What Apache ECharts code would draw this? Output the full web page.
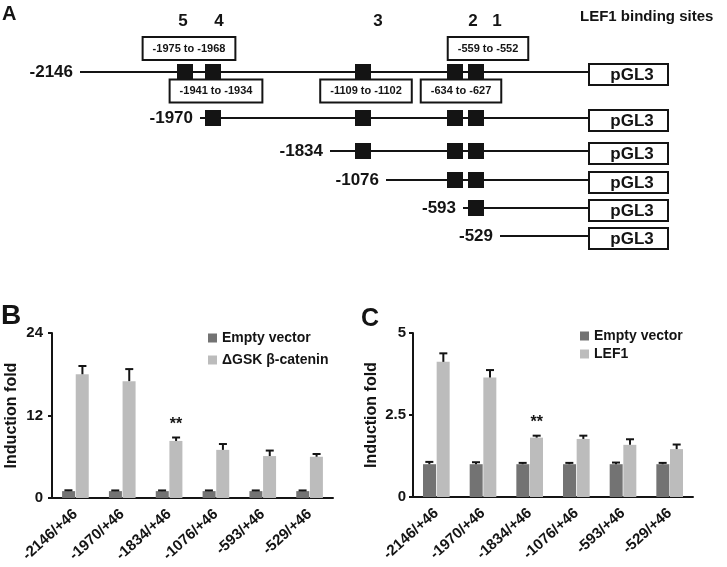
<!DOCTYPE html>
<html>
<head>
<meta charset="utf-8">
<script src="https://cdn.jsdelivr.net/npm/echarts@6/dist/echarts.min.js"></script>
<style>
  html, body { margin: 0; background: #fff; }
  #main { width: 727px; height: 567px; }
</style>
</head>
<body>
<div id="main"></div>
<script>
// panel A - promoter constructs, positions are along the (not to scale) diagram
const constructNames = ['-2146', '-1970', '-1834', '-1076', '-593', '-529'];
const constructStart = [80, 200, 330, 386, 463, 500];
const constructRow = [72, 118, 151, 180, 208, 236];
const siteNames = ['5', '4', '3', '2', '1'];
const sitePos = [185, 213, 363, 455, 476];
const siteLabelPos = [183, 219, 378, 473, 497];
const siteRanges = ['-1975 to -1968', '-1941 to -1934', '-1109 to -1102', '-634 to -627', '-559 to -552'];
const rangeSide = ['top', 'bottom', 'bottom', 'bottom', 'top'];
const rangePos = [189, 216, 366, 461, 488];
const vectorName = 'pGL3';
const vectorStart = 589;

// panels B and C - luciferase induction
const categories = ['-2146/+46', '-1970/+46', '-1834/+46', '-1076/+46', '-593/+46', '-529/+46'];
const emptyB = [1, 1, 1, 1, 1, 1];
const emptyErrB = [0.12, 0.1, 0.1, 0.1, 0.1, 0.1];
const catB = [18.0, 17.0, 8.3, 7.0, 6.1, 6.0];
const catErrB = [1.2, 1.75, 0.5, 0.85, 0.8, 0.4];
const emptyC = [1, 1, 1, 1, 1, 1];
const emptyErrC = [0.07, 0.06, 0.04, 0.04, 0.05, 0.04];
const lefC = [4.12, 3.64, 1.81, 1.77, 1.59, 1.46];
const lefErrC = [0.26, 0.23, 0.06, 0.1, 0.17, 0.14];
const sigB = ['', '', '**', '', '', ''];
const sigC = ['', '', '**', '', '', ''];
const ticksB = [0, 12, 24];
const ticksC = [0, 2.5, 5];

const FONT = '"Liberation Sans", Arial, sans-serif';
const INK = '#141414';
const DARK = '#737373';
const LIGHT = '#bcbcbc';

const chart = echarts.init(document.getElementById('main'));

// sites kept by each construct (those downstream of its 5' end)
const siteMarks = [];
constructStart.forEach((s, i) => {
  sitePos.forEach((p) => {
    if (p > s) siteMarks.push([p, constructRow[i]]);
  });
});

function textDot(data, label, extra) {
  return Object.assign({
    type: 'scatter', xAxisIndex: 0, yAxisIndex: 0, symbolSize: 0, silent: true, z: 10,
    itemStyle: { opacity: 1 },
    data: data,
    label: Object.assign({ show: true, position: 'inside', color: INK, fontFamily: FONT, fontWeight: 'bold' }, label)
  }, extra || {});
}

function errorSeries(xi, vals, errs, sig, shift) {
  return {
    type: 'custom', xAxisIndex: xi, yAxisIndex: xi, z: 5, silent: true,
    data: vals.map((v, i) => [i, v, errs[i]]),
    renderItem: function (params, api) {
      const base = api.coord([api.value(0), api.value(1)]);
      const top = api.coord([api.value(0), api.value(1) + api.value(2)]);
      const x = base[0] + shift;
      const kids = [
        { type: 'line', shape: { x1: x, y1: base[1], x2: x, y2: top[1] }, style: { stroke: INK, lineWidth: 2 } },
        { type: 'line', shape: { x1: x - 4, y1: top[1], x2: x + 4, y2: top[1] }, style: { stroke: INK, lineWidth: 2 } }
      ];
      const s = sig[params.dataIndex];
      if (s) {
        kids.push({ type: 'text', style: { text: s, x: x, y: top[1] - 5, align: 'center', verticalAlign: 'bottom',
          fill: INK, font: 'bold 16px ' + FONT } });
      }
      return { type: 'group', children: kids };
    }
  };
}

function barAxisX(gi) {
  return {
    type: 'category', gridIndex: gi, data: categories,
    axisLine: { lineStyle: { color: INK, width: 2 } },
    axisTick: { show: false },
    axisLabel: { interval: 0, rotate: 42, margin: 14, color: INK, fontFamily: FONT, fontWeight: 'bold', fontSize: 15 }
  };
}

function barAxisY(gi, ticks, margin, gap) {
  return {
    type: 'value', gridIndex: gi, min: ticks[0], max: ticks[2], interval: ticks[1],
    name: 'Induction fold', nameLocation: 'middle', nameGap: gap,
    nameTextStyle: { color: INK, fontFamily: FONT, fontWeight: 'bold', fontSize: 16 },
    axisLine: { show: true, lineStyle: { color: INK, width: 2 } },
    axisTick: { show: true, length: 4, lineStyle: { color: INK, width: 2 } },
    splitLine: { show: false },
    axisLabel: { margin: margin, color: INK, fontFamily: FONT, fontWeight: 'bold', fontSize: 15 }
  };
}

const legendBase = {
  orient: 'vertical', icon: 'rect', itemWidth: 9, itemHeight: 9, selectedMode: false, padding: 0,
  textStyle: { color: INK, fontFamily: FONT, fontWeight: 'bold', fontSize: 14 }
};

chart.setOption({
  backgroundColor: '#fff',
  animation: false,
  title: [
    { text: 'A', left: 2, top: 4, padding: 0, textStyle: { fontFamily: FONT, fontSize: 20, fontWeight: 'bold', color: INK } },
    { text: 'LEF1 binding sites', left: 580, top: 9, padding: 0, textStyle: { fontFamily: FONT, fontSize: 15, fontWeight: 'bold', color: INK } },
    { text: 'B', left: 1, top: 302, padding: 0, textStyle: { fontFamily: FONT, fontSize: 28, fontWeight: 'bold', color: INK } },
    { text: 'C', left: 361, top: 307, padding: 0, textStyle: { fontFamily: FONT, fontSize: 25, fontWeight: 'bold', color: INK } }
  ],
  legend: [
    Object.assign({ data: ['Empty vector', 'ΔGSK β-catenin'], left: 208, top: 331, itemGap: 8 }, legendBase),
    Object.assign({ data: ['Empty vector', 'LEF1'], left: 580, top: 329, itemGap: 4 }, legendBase)
  ],
  grid: [
    { left: 0, top: 0, width: 727, height: 260 },
    { left: 52, top: 333, width: 281, height: 165 },
    { left: 413, top: 333, width: 280, height: 164 }
  ],
  xAxis: [
    { type: 'value', gridIndex: 0, min: 0, max: 727, show: false },
    barAxisX(1),
    barAxisX(2)
  ],
  yAxis: [
    { type: 'value', gridIndex: 0, min: 0, max: 260, inverse: true, show: false },
    barAxisY(1, ticksB, 9, 32),
    barAxisY(2, ticksC, 7, 33)
  ],
  series: [
    // construct backbones
    {
      type: 'custom', xAxisIndex: 0, yAxisIndex: 0, silent: true, z: 2,
      data: constructStart.map((s, i) => [s, constructRow[i], vectorStart]),
      renderItem: function (params, api) {
        const a = api.coord([api.value(0), api.value(1)]);
        const b = api.coord([api.value(2), api.value(1)]);
        return { type: 'line', shape: { x1: a[0], y1: a[1], x2: b[0], y2: b[1] }, style: { stroke: INK, lineWidth: 2 } };
      }
    },
    // pGL3 boxes
    {
      type: 'custom', xAxisIndex: 0, yAxisIndex: 0, silent: true, z: 3,
      data: constructRow.map((r) => [vectorStart, r]),
      renderItem: function (params, api) {
        const a = api.coord([api.value(0), api.value(1)]);
        return {
          type: 'group', children: [
            { type: 'rect', shape: { x: a[0], y: a[1] - 8, width: 79, height: 21 }, style: { fill: '#fff', stroke: INK, lineWidth: 2 } },
            { type: 'text', style: { text: vectorName, x: a[0] + 43, y: a[1] + 3, align: 'center', verticalAlign: 'middle', fill: INK, font: 'bold 17px ' + FONT } }
          ]
        };
      }
    },
    // binding site squares
    {
      type: 'scatter', xAxisIndex: 0, yAxisIndex: 0, silent: true, z: 4,
      symbol: 'rect', symbolSize: 16, itemStyle: { color: INK, opacity: 1 },
      data: siteMarks
    },
    // construct 5' end labels
    textDot(constructStart.map((s, i) => ({ value: [s, constructRow[i]], name: constructNames[i] })),
      { position: 'left', distance: 7, fontSize: 17, formatter: '{b}' }),
    // site numbers
    textDot(siteLabelPos.map((p, i) => ({ value: [p, 21], name: siteNames[i] })),
      { fontSize: 17, formatter: '{b}' }),
    // site coordinate callouts
    textDot(rangePos.map((p, i) => ({ value: [p, rangeSide[i] === 'top' ? constructRow[0] - 23.5 : constructRow[0] + 19], name: siteRanges[i] })),
      { fontSize: 11, formatter: '{b}', backgroundColor: '#fff', borderColor: INK, borderWidth: 2, padding: [5, 9, 5, 9] }, { z: 6 }),

    // panel B
    { name: 'Empty vector', type: 'bar', xAxisIndex: 1, yAxisIndex: 1, data: emptyB, barWidth: 13, barGap: '5%', itemStyle: { color: DARK } },
    { name: 'ΔGSK β-catenin', type: 'bar', xAxisIndex: 1, yAxisIndex: 1, data: catB, barWidth: 13, barGap: '5%', itemStyle: { color: LIGHT } },
    errorSeries(1, emptyB, emptyErrB, ['', '', '', '', '', ''], -7),
    errorSeries(1, catB, catErrB, sigB, 7),

    // panel C
    { name: 'Empty vector', type: 'bar', xAxisIndex: 2, yAxisIndex: 2, data: emptyC, barWidth: 13, barGap: '5%', itemStyle: { color: DARK } },
    { name: 'LEF1', type: 'bar', xAxisIndex: 2, yAxisIndex: 2, data: lefC, barWidth: 13, barGap: '5%', itemStyle: { color: LIGHT } },
    errorSeries(2, emptyC, emptyErrC, ['', '', '', '', '', ''], -7),
    errorSeries(2, lefC, lefErrC, sigC, 7)
  ]
});
</script>
</body>
</html>
